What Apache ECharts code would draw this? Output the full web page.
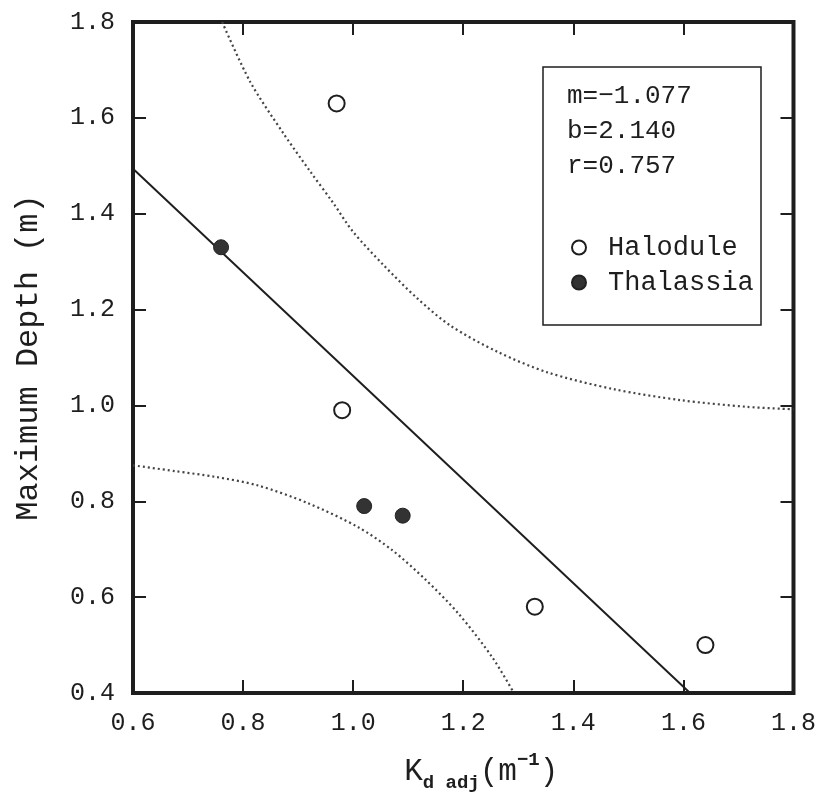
<!DOCTYPE html>
<html>
<head>
<meta charset="utf-8">
<script src="https://cdn.jsdelivr.net/npm/echarts@6/dist/echarts.min.js"></script>
<style>
  html, body { margin: 0; padding: 0; background: #fff; }
  #chart { width: 819px; height: 803px; }
</style>
</head>
<body>
<div id="chart"></div>
<script>
// points
const halX = [0.97, 0.98, 1.33, 1.64];
const halY = [1.63, 0.99, 0.58, 0.50];
const thaX = [0.76, 1.02, 1.09];
const thaY = [1.33, 0.79, 0.77];

// regression line ends
const fitX = [0.6, 1.612];
const fitY = [1.494, 0.4];

// dotted confidence curves
const upX = [0.762, 0.813, 0.873, 0.922, 0.964, 1.0, 1.055, 1.116, 1.176, 1.262, 1.353, 1.473, 1.595, 1.716, 1.8];
const upY = [1.80, 1.675, 1.568, 1.488, 1.422, 1.362, 1.293, 1.224, 1.167, 1.112, 1.069, 1.034, 1.011, 0.997, 0.992];
const loX = [0.6, 0.676, 0.749, 0.827, 0.918, 1.009, 1.071, 1.131, 1.191, 1.253, 1.292];
const loY = [0.875, 0.863, 0.851, 0.833, 0.796, 0.746, 0.698, 0.637, 0.566, 0.474, 0.40];

const stats = ['m=\u22121.077', 'b=2.140', 'r=0.757'];

const pairs = (xs, ys) => xs.map((x, i) => [x, ys[i]]);
const FONT = 'Liberation Mono';
const INK = '#1e1e1e';

const chart = echarts.init(document.getElementById('chart'));

const tickOnly = {
  show: true, inside: true, length: 13,
  lineStyle: { color: INK, width: 2 }
};

chart.setOption({
  animation: false,
  grid: {
    left: 133, right: 22, top: 22, bottom: 110,
    show: true, borderWidth: 4, borderColor: INK, backgroundColor: 'transparent'
  },
  xAxis: [{
    type: 'value', min: 0.6, max: 1.8, interval: 0.2,
    axisLine: { show: false },
    axisTick: tickOnly,
    splitLine: { show: false },
    axisLabel: {
      margin: 18, color: INK, fontFamily: FONT, fontSize: 25,
      formatter: v => v.toFixed(1)
    },
    name: '{b|K}{s|d adj}{b|(m}{p|\u22121}{b|)}',
    nameLocation: 'middle',
    nameGap: 58,
    nameTextStyle: {
      padding: [0, 0, 0, 36],
      rich: {
        b: { fontFamily: FONT, fontSize: 31, color: INK, lineHeight: 42, verticalAlign: 'middle' },
        s: { fontFamily: FONT, fontSize: 19, color: INK, fontWeight: 'bold', lineHeight: 42, verticalAlign: 'bottom', padding: [16, 0, 0, 0] },
        p: { fontFamily: FONT, fontSize: 19, color: INK, fontWeight: 'bold', lineHeight: 42, verticalAlign: 'top', padding: [0, 0, 20, 0] }
      }
    }
  }, {
    type: 'value', position: 'top', min: 0.6, max: 1.8, interval: 0.2,
    axisLine: { show: false }, axisTick: tickOnly,
    axisLabel: { show: false }, splitLine: { show: false }
  }],
  yAxis: [{
    type: 'value', min: 0.4, max: 1.8, interval: 0.2,
    axisLine: { show: false },
    axisTick: tickOnly,
    splitLine: { show: false },
    axisLabel: {
      margin: 18, color: INK, fontFamily: FONT, fontSize: 25,
      formatter: v => v.toFixed(1)
    },
    name: 'Maximum Depth (m)',
    nameLocation: 'middle',
    nameGap: 88,
    nameRotate: 90,
    nameTextStyle: { fontFamily: FONT, fontSize: 32, color: INK }
  }, {
    type: 'value', position: 'right', min: 0.4, max: 1.8, interval: 0.2,
    axisLine: { show: false }, axisTick: tickOnly,
    axisLabel: { show: false }, splitLine: { show: false }
  }],
  legend: {
    data: ['Halodule', 'Thalassia'],
    orient: 'vertical',
    left: 566, top: 229,
    itemWidth: 14, itemHeight: 14, itemGap: 8,
    icon: 'circle',
    textStyle: { fontFamily: FONT, fontSize: 27, color: INK, padding: [0, 0, 0, 17], lineHeight: 26 }
  },
  graphic: [
    {
      type: 'rect', silent: true, z: 1,
      shape: { x: 543, y: 67, width: 218, height: 258 },
      style: { fill: '#fff', stroke: INK, lineWidth: 1.5 }
    },
    {
      type: 'text', silent: true, z: 2, left: 567, top: 79,
      style: {
        text: stats.join('\n'),
        font: '26px "' + FONT + '"',
        lineHeight: 35, fill: INK
      }
    }
  ],
  series: [
    {
      name: 'fit', type: 'line', data: pairs(fitX, fitY),
      symbol: 'none', lineStyle: { color: INK, width: 2 }, z: 3
    },
    {
      name: 'upper', type: 'line', data: pairs(upX, upY), smooth: 0.3,
      symbol: 'none', lineStyle: { color: '#444', width: 2.2, type: [2, 3] }, z: 3
    },
    {
      name: 'lower', type: 'line', data: pairs(loX, loY), smooth: 0.3,
      symbol: 'none', lineStyle: { color: '#444', width: 2.2, type: [2, 3] }, z: 3
    },
    {
      name: 'Halodule', type: 'scatter', data: pairs(halX, halY),
      symbol: 'circle', symbolSize: 16, z: 4,
      itemStyle: { color: '#fff', borderColor: INK, borderWidth: 2, opacity: 1 }
    },
    {
      name: 'Thalassia', type: 'scatter', data: pairs(thaX, thaY),
      symbol: 'circle', symbolSize: 15, z: 4,
      itemStyle: { color: '#333', borderColor: '#222', borderWidth: 1, opacity: 1 }
    }
  ]
});
</script>
</body>
</html>
